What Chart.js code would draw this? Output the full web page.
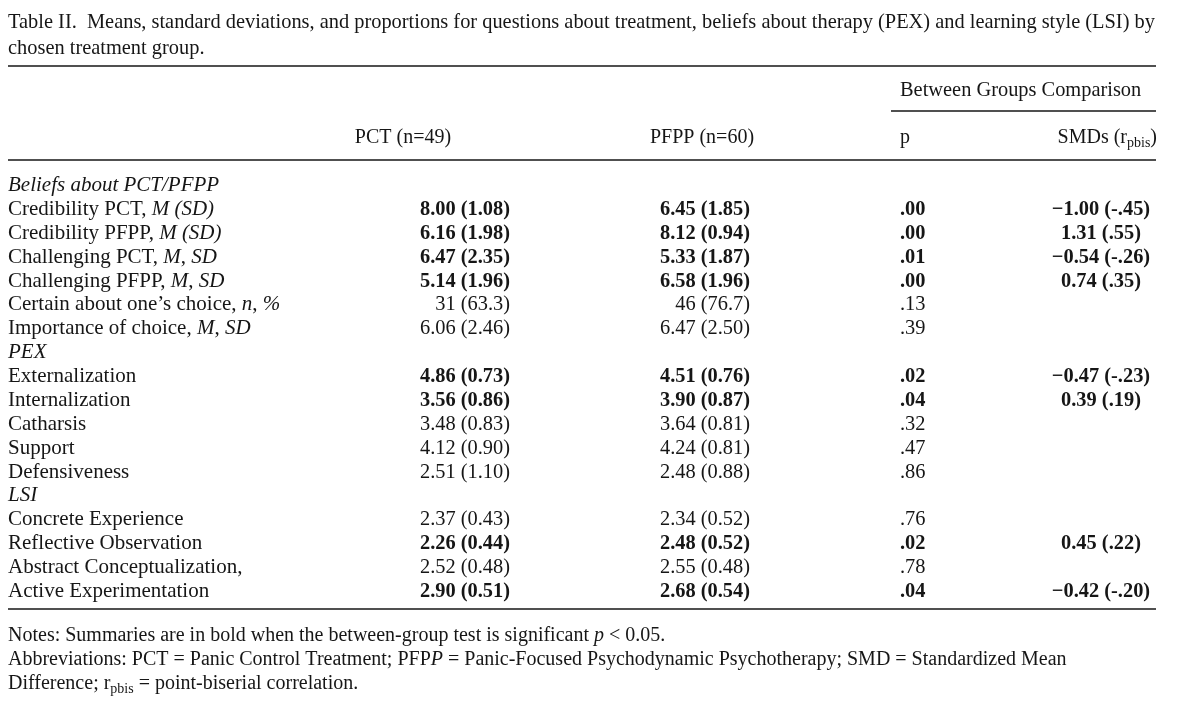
<!DOCTYPE html>
<html>
<head>
<meta charset="utf-8">
<script src="https://cdn.jsdelivr.net/npm/chart.js@4.4.1/dist/chart.umd.min.js"></script>
<style>
  html, body { margin: 0; padding: 0; background: #fff; }
  #wrap { width: 1200px; height: 707px; position: relative; }
</style>
</head>
<body>
<div id="wrap"><canvas id="tbl"></canvas></div>
<script>
// ── Table data ────────────────────────────────────────────────────────────────
// _text_ marks italic runs inside a row label
const rowLabels = [
  'Beliefs about PCT/PFPP',
  'Credibility PCT, _M (SD)_',
  'Credibility PFPP, _M (SD)_',
  'Challenging PCT, _M_, _SD_',
  'Challenging PFPP, _M_, _SD_',
  'Certain about one\u2019s choice, _n_, _%_',
  'Importance of choice, _M_, _SD_',
  'PEX',
  'Externalization',
  'Internalization',
  'Catharsis',
  'Support',
  'Defensiveness',
  'LSI',
  'Concrete Experience',
  'Reflective Observation',
  'Abstract Conceptualization,',
  'Active Experimentation'
];
const sectionRows = [0, 7, 13];

const pctCells = ['', '8.00 (1.08)', '6.16 (1.98)', '6.47 (2.35)', '5.14 (1.96)', '31 (63.3)', '6.06 (2.46)',
  '', '4.86 (0.73)', '3.56 (0.86)', '3.48 (0.83)', '4.12 (0.90)', '2.51 (1.10)',
  '', '2.37 (0.43)', '2.26 (0.44)', '2.52 (0.48)', '2.90 (0.51)'];
const pfppCells = ['', '6.45 (1.85)', '8.12 (0.94)', '5.33 (1.87)', '6.58 (1.96)', '46 (76.7)', '6.47 (2.50)',
  '', '4.51 (0.76)', '3.90 (0.87)', '3.64 (0.81)', '4.24 (0.81)', '2.48 (0.88)',
  '', '2.34 (0.52)', '2.48 (0.52)', '2.55 (0.48)', '2.68 (0.54)'];
const pValues = ['', '.00', '.00', '.01', '.00', '.13', '.39',
  '', '.02', '.04', '.32', '.47', '.86',
  '', '.76', '.02', '.78', '.04'];
const smdCells = ['', '\u22121.00 (-.45)', '1.31 (.55)', '\u22120.54 (-.26)', '0.74 (.35)', '', '',
  '', '\u22120.47 (-.23)', '0.39 (.19)', '', '', '',
  '', '', '0.45 (.22)', '', '\u22120.42 (-.20)'];

const titleLines = [
  'Table II.  Means, standard deviations, and proportions for questions about treatment, beliefs about therapy (PEX) and learning style (LSI) by',
  'chosen treatment group.'
];

// ── Layout ────────────────────────────────────────────────────────────────────
const col = { label: 8, pct: 510, pfpp: 750, p: 900, smd: 1101 };
const SERIF = '"Liberation Serif", "Times New Roman", serif';
const fBody = '20.4px ' + SERIF;
const fBodyIt = 'italic 20.4px ' + SERIF;
const fLab = '21px ' + SERIF;
const fLabIt = 'italic 21px ' + SERIF;
const fHead = '20px ' + SERIF;
const fNote = '20px ' + SERIF;
const fNoteIt = 'italic 20px ' + SERIF;
const fNumB = 'bold 20.4px ' + SERIF;
const fSub = '14px ' + SERIF;
const ink = '#161616';

function isSig(i) { return pValues[i] !== '' && parseFloat(pValues[i]) < 0.05; }

// draw a list of runs [{t, f, dy}] starting at x (align: left/right/center)
function drawRuns(ctx, runs, x, y, align) {
  let w = 0;
  runs.forEach(r => { ctx.font = r.f; w += ctx.measureText(r.t).width; });
  let cx = align === 'right' ? x - w : align === 'center' ? x - w / 2 : x;
  ctx.textAlign = 'left';
  runs.forEach(r => {
    ctx.font = r.f;
    ctx.fillText(r.t, cx, y + (r.dy || 0));
    cx += ctx.measureText(r.t).width;
  });
}

function labelRuns(s, italicAll) {
  return s.split('_').map((t, k) => ({ t: t, f: (italicAll || k % 2 === 1) ? fLabIt : fLab }));
}

function rule(ctx, x1, x2, y, w) {
  ctx.beginPath();
  ctx.lineWidth = w;
  ctx.moveTo(x1, y);
  ctx.lineTo(x2, y);
  ctx.stroke();
}

const tablePlugin = {
  id: 'tablePlugin',
  afterDatasetsDraw(chart) {
    const ctx = chart.ctx;
    ctx.save();
    ctx.fillStyle = ink;
    ctx.strokeStyle = ink;
    ctx.textBaseline = 'alphabetic';

    // caption
    ctx.font = fBody;
    ctx.fillText(titleLines[0], 8, 28);
    ctx.fillText(titleLines[1], 8, 54);

    // rules
    rule(ctx, 8, 1156, 66, 1.5);
    rule(ctx, 891, 1156, 111, 1.5);
    rule(ctx, 8, 1156, 160, 1.5);
    rule(ctx, 8, 1156, 609, 1.5);

    // column headers
    drawRuns(ctx, [{ t: 'Between Groups Comparison', f: fBody }], 900, 96, 'left');
    drawRuns(ctx, [{ t: 'PCT (n=49)', f: fHead }], 403, 143, 'center');
    drawRuns(ctx, [{ t: 'PFPP (n=60)', f: fHead }], 702, 143, 'center');
    drawRuns(ctx, [{ t: 'p', f: fHead }], 900, 143, 'left');
    drawRuns(ctx, [{ t: 'SMDs (r', f: fHead }, { t: 'pbis', f: fSub, dy: 4 }, { t: ')', f: fHead }], 1157, 143, 'right');

    // body cells, placed on the points of each dataset
    const mLab = chart.getDatasetMeta(0).data;
    const mPct = chart.getDatasetMeta(1).data;
    const mPfpp = chart.getDatasetMeta(2).data;
    const mP = chart.getDatasetMeta(3).data;
    const mSmd = chart.getDatasetMeta(4).data;
    rowLabels.forEach((lab, i) => {
      const dy = 6;
      drawRuns(ctx, labelRuns(lab, sectionRows.includes(i)), mLab[i].x, mLab[i].y + dy, 'left');
      const f = isSig(i) ? fNumB : fBody;
      if (pctCells[i]) drawRuns(ctx, [{ t: pctCells[i], f: f }], mPct[i].x, mPct[i].y + dy, 'right');
      if (pfppCells[i]) drawRuns(ctx, [{ t: pfppCells[i], f: f }], mPfpp[i].x, mPfpp[i].y + dy, 'right');
      if (pValues[i]) drawRuns(ctx, [{ t: pValues[i], f: f }], mP[i].x, mP[i].y + dy, 'left');
      if (smdCells[i]) drawRuns(ctx, [{ t: smdCells[i], f: fNumB }], mSmd[i].x, mSmd[i].y + dy, 'center');
    });

    // notes
    drawRuns(ctx, [
      { t: 'Notes: Summaries are in bold when the between-group test is significant ', f: fNote },
      { t: 'p', f: fNoteIt }, { t: ' < 0.05.', f: fNote }], 8, 641, 'left');
    drawRuns(ctx, [
      { t: 'Abbreviations: PCT = Panic Control Treatment; PFP', f: fNote },
      { t: 'P', f: fNoteIt },
      { t: ' = Panic-Focused Psychodynamic Psychotherapy; SMD = Standardized Mean', f: fNote }], 8, 665, 'left');
    drawRuns(ctx, [
      { t: 'Difference; r', f: fNote }, { t: 'pbis', f: fSub, dy: 4 },
      { t: ' = point-biserial correlation.', f: fNote }], 8, 689, 'left');

    ctx.restore();
  }
};

function colSet(x) {
  return {
    data: rowLabels.map(l => ({ x: x, y: l })),
    pointRadius: 0, pointHoverRadius: 0, showLine: false
  };
}

new Chart(document.getElementById('tbl'), {
  type: 'scatter',
  data: {
    datasets: [colSet(col.label), colSet(col.pct), colSet(col.pfpp), colSet(col.p), colSet(col.smd)]
  },
  options: {
    responsive: true, maintainAspectRatio: false, animation: false,
    devicePixelRatio: 1,
    layout: { padding: { top: 185, bottom: 116, left: 0, right: 0 } },
    plugins: { legend: { display: false }, tooltip: { enabled: false } },
    events: [],
    scales: {
      x: { type: 'linear', min: 0, max: 1200, display: false },
      y: { type: 'category', labels: rowLabels, offset: false, display: false }
    }
  },
  plugins: [tablePlugin]
});
</script>
</body>
</html>
